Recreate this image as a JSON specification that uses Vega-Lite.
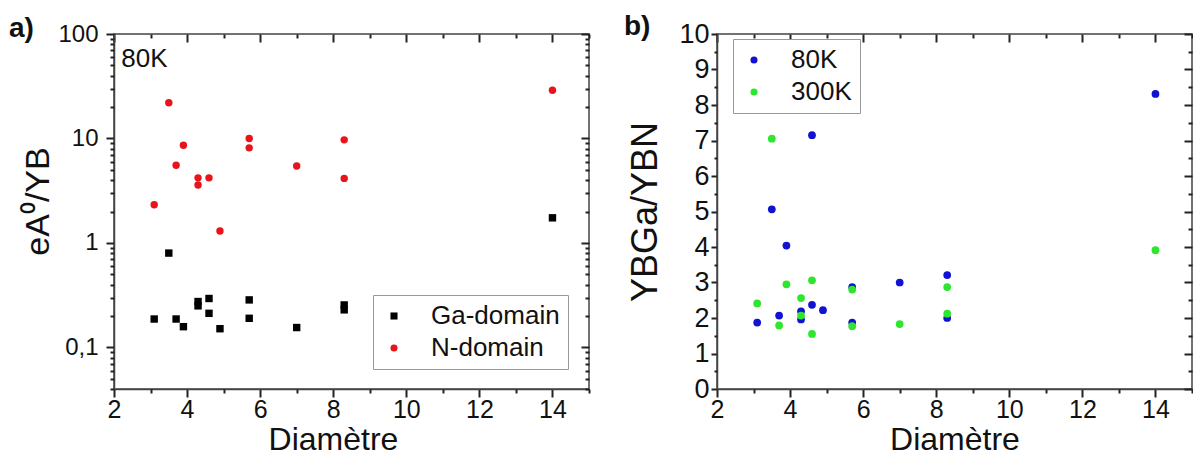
{
  "$schema": "https://vega.github.io/schema/vega-lite/v6.json",
  "background": "white",
  "padding": {"left": 8, "top": 12, "right": 2, "bottom": 0},
  "bounds": "flush",
  "spacing": 128,
  "resolve": {"scale": {"color": "independent", "shape": "independent"}, "legend": {"color": "independent", "shape": "independent"}},
  "config": {
    "font": "Liberation Sans",
    "view": {"stroke": "#444", "strokeWidth": 1.5},
    "axis": {
      "grid": false,
      "ticks": true,
      "domainColor": "#444",
      "domainWidth": 1.5,
      "tickColor": "#222",
      "tickWidth": 2,
      "tickOpacity": 1,
      "labelColor": "#111",
      "titleColor": "#111",
      "titleFontWeight": "normal",
      "labelFont": "Liberation Sans",
      "titleFont": "Liberation Sans",
      "labelFlush": false,
      "labelOverlap": false
    },
    "legend": {
      "labelFont": "Liberation Sans",
      "labelFontSize": 26,
      "labelColor": "#111",
      "strokeColor": "#999",
      "fillColor": "white",
      "padding": 8,
      "rowPadding": 6,
      "labelOffset": 24,
      "symbolSize": 50,
      "symbolStrokeWidth": 0
    },
    "title": {"font": "Liberation Sans", "color": "#111"}
  },
  "datasets": {
    "a": [
      {"d": 3.1, "v": 0.187, "series": "Ga-domain"},
      {"d": 3.5, "v": 0.80, "series": "Ga-domain"},
      {"d": 3.7, "v": 0.187, "series": "Ga-domain"},
      {"d": 3.9, "v": 0.158, "series": "Ga-domain"},
      {"d": 4.3, "v": 0.275, "series": "Ga-domain"},
      {"d": 4.3, "v": 0.25, "series": "Ga-domain"},
      {"d": 4.6, "v": 0.294, "series": "Ga-domain"},
      {"d": 4.6, "v": 0.212, "series": "Ga-domain"},
      {"d": 4.9, "v": 0.151, "series": "Ga-domain"},
      {"d": 5.7, "v": 0.285, "series": "Ga-domain"},
      {"d": 5.7, "v": 0.19, "series": "Ga-domain"},
      {"d": 7.0, "v": 0.155, "series": "Ga-domain"},
      {"d": 8.3, "v": 0.255, "series": "Ga-domain"},
      {"d": 8.3, "v": 0.229, "series": "Ga-domain"},
      {"d": 14, "v": 1.74, "series": "Ga-domain"},
      {"d": 3.1, "v": 2.32, "series": "N-domain"},
      {"d": 3.5, "v": 22.0, "series": "N-domain"},
      {"d": 3.7, "v": 5.54, "series": "N-domain"},
      {"d": 3.9, "v": 8.6, "series": "N-domain"},
      {"d": 4.3, "v": 4.2, "series": "N-domain"},
      {"d": 4.3, "v": 3.59, "series": "N-domain"},
      {"d": 4.6, "v": 4.2, "series": "N-domain"},
      {"d": 4.9, "v": 1.30, "series": "N-domain"},
      {"d": 5.7, "v": 10.0, "series": "N-domain"},
      {"d": 5.7, "v": 8.13, "series": "N-domain"},
      {"d": 7.0, "v": 5.46, "series": "N-domain"},
      {"d": 8.3, "v": 9.7, "series": "N-domain"},
      {"d": 8.3, "v": 4.15, "series": "N-domain"},
      {"d": 14, "v": 28.9, "series": "N-domain"}
    ],
    "b": [
      {"d": 3.1, "r": 1.87, "T": "80K"},
      {"d": 3.5, "r": 5.06, "T": "80K"},
      {"d": 3.7, "r": 2.07, "T": "80K"},
      {"d": 3.9, "r": 4.04, "T": "80K"},
      {"d": 4.3, "r": 2.19, "T": "80K"},
      {"d": 4.3, "r": 1.96, "T": "80K"},
      {"d": 4.6, "r": 7.15, "T": "80K"},
      {"d": 4.6, "r": 2.37, "T": "80K"},
      {"d": 4.9, "r": 2.22, "T": "80K"},
      {"d": 5.7, "r": 2.87, "T": "80K"},
      {"d": 5.7, "r": 1.87, "T": "80K"},
      {"d": 7.0, "r": 3.0, "T": "80K"},
      {"d": 8.3, "r": 3.21, "T": "80K"},
      {"d": 8.3, "r": 2.0, "T": "80K"},
      {"d": 14, "r": 8.31, "T": "80K"},
      {"d": 3.1, "r": 2.41, "T": "300K"},
      {"d": 3.5, "r": 7.05, "T": "300K"},
      {"d": 3.7, "r": 1.79, "T": "300K"},
      {"d": 3.9, "r": 2.95, "T": "300K"},
      {"d": 4.3, "r": 2.56, "T": "300K"},
      {"d": 4.3, "r": 2.07, "T": "300K"},
      {"d": 4.6, "r": 3.06, "T": "300K"},
      {"d": 4.6, "r": 1.55, "T": "300K"},
      {"d": 5.7, "r": 2.8, "T": "300K"},
      {"d": 5.7, "r": 1.77, "T": "300K"},
      {"d": 7.0, "r": 1.83, "T": "300K"},
      {"d": 8.3, "r": 2.87, "T": "300K"},
      {"d": 8.3, "r": 2.12, "T": "300K"},
      {"d": 14, "r": 3.91, "T": "300K"}
    ],
    "note": [{"label": "80K"}]
  },
  "hconcat": [
    {
      "width": 475,
      "height": 355,
      "title": {"text": "a)", "anchor": "start", "frame": "group", "orient": "top", "fontSize": 28, "fontWeight": "bold", "align": "left", "baseline": "alphabetic", "offset": 0, "dx": -105, "dy": 43},
      "layer": [
        {
          "data": {"name": "a"},
          "transform": [{"filter": "datum.series == 'Ga-domain'"}],
          "mark": {"type": "point", "filled": true, "opacity": 1, "size": 55, "strokeWidth": 0},
          "encoding": {
            "x": {"field": "d", "type": "quantitative",
              "scale": {"domain": [2, 15], "nice": false, "zero": false},
              "axis": {"orient": "bottom", "title": "Diamètre", "titleFontSize": 32, "titlePadding": 2, "titleX": 219,
                "values": [2,4,6,8,10,12,14], "labelFontSize": 25, "labelPadding": 0, "tickSize": 8}},
            "y": {"field": "v", "type": "quantitative",
              "scale": {"type": "log", "domain": [0.04, 100], "nice": false},
              "axis": {"orient": "left", "title": "eA⁰/YB", "titleFontSize": 34, "titlePadding": 2, "titleY": 167,
                "values": [0.1, 1, 10, 100],
                "labelExpr": "datum.value == 100 ? '100' : datum.value == 10 ? '10' : datum.value == 1 ? '1' : '0,1'",
                "labelFontSize": 24, "labelPadding": 8, "tickSize": 8}},
            "color": {"field": "series", "type": "nominal",
              "scale": {"domain": ["Ga-domain", "N-domain"], "range": ["#000000", "#e8141c"]},
              "legend": {"title": null, "orient": "none", "legendX": 259, "legendY": 261}},
            "shape": {"field": "series", "type": "nominal",
              "scale": {"domain": ["Ga-domain", "N-domain"], "range": ["square", "circle"]},
              "legend": {"title": null, "orient": "none", "legendX": 259, "legendY": 261}}
          }
        },
        {
          "data": {"name": "a"},
          "transform": [{"filter": "datum.series == 'N-domain'"}],
          "mark": {"type": "point", "filled": true, "opacity": 1, "size": 55, "strokeWidth": 0},
          "encoding": {
            "x": {"field": "d", "type": "quantitative",
              "axis": {"orient": "top", "title": null, "labels": false, "domain": false, "offset": -8, "tickSize": 8,
                "values": [2,4,6,8,10,12,14]}},
            "y": {"field": "v", "type": "quantitative",
              "axis": {"orient": "right", "title": null, "labels": false, "domain": false, "offset": -8, "tickSize": 8,
                "values": [0.1, 1, 10, 100]}},
            "color": {"field": "series", "type": "nominal"},
            "shape": {"field": "series", "type": "nominal"}
          }
        },
        {
          "data": {"name": "a"},
          "mark": {"type": "point", "opacity": 0, "size": 1},
          "encoding": {
            "x": {"field": "d", "type": "quantitative",
              "axis": {"orient": "bottom", "title": null, "labels": false, "domain": false, "tickSize": 4,
                "values": [3,5,7,9,11,13,15]}},
            "y": {"field": "v", "type": "quantitative",
              "axis": {"orient": "left", "title": null, "labels": false, "domain": false, "tickSize": 4,
                "values": [0.04,0.05,0.06,0.07,0.08,0.09,0.2,0.3,0.4,0.5,0.6,0.7,0.8,0.9,2,3,4,5,6,7,8,9,20,30,40,50,60,70,80,90]}}
          }
        },
        {
          "data": {"name": "a"},
          "mark": {"type": "point", "opacity": 0, "size": 1},
          "encoding": {
            "x": {"field": "d", "type": "quantitative",
              "axis": {"orient": "top", "title": null, "labels": false, "domain": false, "offset": -4, "tickSize": 4,
                "values": [3,5,7,9,11,13,15]}},
            "y": {"field": "v", "type": "quantitative",
              "axis": {"orient": "right", "title": null, "labels": false, "domain": false, "offset": -4, "tickSize": 4,
                "values": [0.04,0.05,0.06,0.07,0.08,0.09,0.2,0.3,0.4,0.5,0.6,0.7,0.8,0.9,2,3,4,5,6,7,8,9,20,30,40,50,60,70,80,90]}}
          }
        },
        {
          "data": {"name": "note"},
          "mark": {"type": "text", "fontSize": 26, "fontWeight": "normal", "align": "left", "baseline": "alphabetic", "fill": "#111"},
          "encoding": {
            "x": {"datum": 2.2, "type": "quantitative", "axis": null},
            "y": {"datum": 48, "type": "quantitative", "axis": null},
            "text": {"field": "label"}
          }
        }
      ],
      "resolve": {"axis": {"x": "independent", "y": "independent"}}
    },
    {
      "width": 475,
      "height": 355,
      "title": {"text": "b)", "anchor": "start", "frame": "group", "orient": "top", "fontSize": 28, "fontWeight": "bold", "align": "left", "baseline": "alphabetic", "offset": 0, "dx": -93, "dy": 43},
      "data": {"name": "b"},
      "layer": [
        {
          "transform": [{"filter": "datum.T == '80K'"}],
          "mark": {"type": "point", "shape": "circle", "filled": true, "opacity": 1, "size": 60, "strokeWidth": 0},
          "encoding": {
            "x": {"field": "d", "type": "quantitative",
              "scale": {"domain": [2, 15], "nice": false, "zero": false},
              "axis": {"orient": "bottom", "title": "Diamètre", "titleFontSize": 32, "titlePadding": 2,
                "values": [2,4,6,8,10,12,14], "labelFontSize": 25, "labelPadding": 0, "tickSize": 8}},
            "y": {"field": "r", "type": "quantitative",
              "scale": {"domain": [0, 10], "nice": false},
              "axis": {"orient": "left", "title": "YBGa/YBN", "titleFontSize": 36, "titlePadding": 14,
                "values": [0,1,2,3,4,5,6,7,8,9,10], "format": "d",
                "labelFontSize": 27, "labelPadding": 2, "tickSize": 6}},
            "color": {"field": "T", "type": "nominal",
              "scale": {"domain": ["80K", "300K"], "range": ["#1212d2", "#2ee62e"]},
              "legend": {"title": null, "orient": "none", "legendX": 16, "legendY": 5, "symbolType": "circle"}}
          }
        },
        {
          "transform": [{"filter": "datum.T == '300K'"}],
          "mark": {"type": "point", "shape": "circle", "filled": true, "opacity": 1, "size": 60, "strokeWidth": 0},
          "encoding": {
            "x": {"field": "d", "type": "quantitative",
              "axis": {"orient": "top", "title": null, "labels": false, "domain": false, "offset": -8, "tickSize": 8,
                "values": [2,4,6,8,10,12,14]}},
            "y": {"field": "r", "type": "quantitative",
              "axis": {"orient": "right", "title": null, "labels": false, "domain": false, "offset": -8, "tickSize": 8,
                "values": [0,1,2,3,4,5,6,7,8,9,10]}},
            "color": {"field": "T", "type": "nominal"}
          }
        },
        {
          "mark": {"type": "point", "opacity": 0, "size": 1},
          "encoding": {
            "x": {"field": "d", "type": "quantitative",
              "axis": {"orient": "bottom", "title": null, "labels": false, "domain": false, "tickSize": 4,
                "values": [3,5,7,9,11,13,15]}},
            "y": {"field": "r", "type": "quantitative",
              "axis": {"orient": "left", "title": null, "labels": false, "domain": false, "tickSize": 3,
                "values": [0.5,1.5,2.5,3.5,4.5,5.5,6.5,7.5,8.5,9.5]}}
          }
        },
        {
          "mark": {"type": "point", "opacity": 0, "size": 1},
          "encoding": {
            "x": {"field": "d", "type": "quantitative",
              "axis": {"orient": "top", "title": null, "labels": false, "domain": false, "offset": -4, "tickSize": 4,
                "values": [3,5,7,9,11,13,15]}},
            "y": {"field": "r", "type": "quantitative",
              "axis": {"orient": "right", "title": null, "labels": false, "domain": false, "offset": -4, "tickSize": 4,
                "values": [0.5,1.5,2.5,3.5,4.5,5.5,6.5,7.5,8.5,9.5]}}
          }
        }
      ],
      "resolve": {"axis": {"x": "independent", "y": "independent"}}
    }
  ]
}
